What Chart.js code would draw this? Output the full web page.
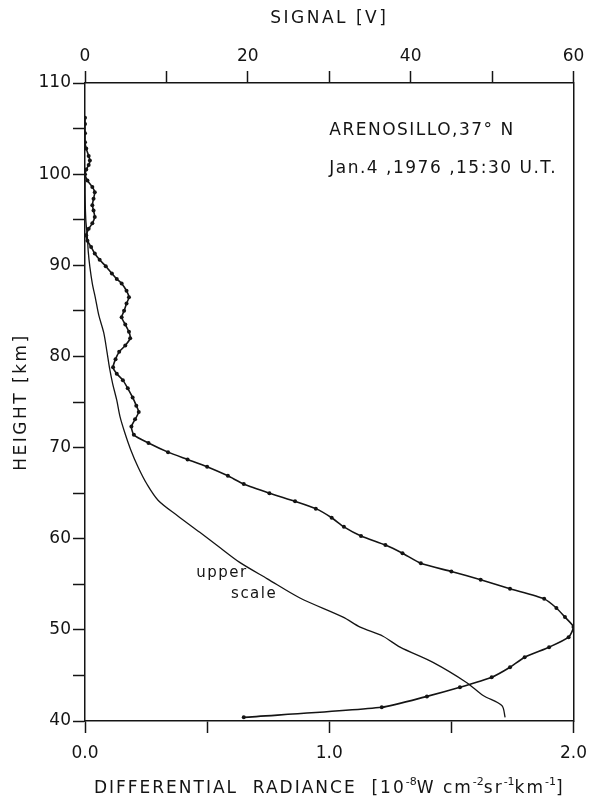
<!DOCTYPE html>
<html>
<head>
<meta charset="utf-8">
<script src="https://cdn.jsdelivr.net/npm/chart.js@4.4.0/dist/chart.umd.min.js"></script>
<style>
  html, body { margin: 0; padding: 0; background: #fff; }
</style>
</head>
<body>
<canvas id="profile" width="599" height="801"></canvas>
<script>
// lower scale: differential radiance [1e-8 W cm-2 sr-1 km-1] against height [km]
var radHeight = [106.2, 105.5, 104.5, 103.5, 102.8, 102.0, 101.5, 101.0, 100.5, 100.0,
  99.3, 98.6, 98.0, 97.3, 96.6, 96.0, 95.3, 94.6, 94.0, 93.3, 92.7, 92.0, 91.3, 90.6,
  89.9, 89.1, 88.5, 88.0, 87.2, 86.5, 85.8, 85.0, 84.3, 83.5, 82.7, 82.0, 81.2, 80.5,
  79.7, 78.8, 78.1, 77.4, 76.5, 75.5, 74.6, 73.9, 73.1, 72.3, 71.4, 70.5, 69.5, 68.7,
  67.9, 66.9, 66.0, 65.0, 64.1, 63.3, 62.3, 61.3, 60.3, 59.3, 58.4, 57.3, 56.4, 55.5,
  54.5, 53.4, 52.4, 51.4, 50.3, 49.2, 48.1, 47.0, 45.9, 44.8, 43.7, 42.7, 41.5, 40.4];
var radiance = [0.0, 0.0, 0.0, 0.0, 0.005, 0.015, 0.02, 0.015, 0.005, 0.0,
  0.01, 0.03, 0.04, 0.035, 0.03, 0.035, 0.04, 0.03, 0.015, 0.005, 0.01, 0.025, 0.04, 0.06,
  0.085, 0.11, 0.13, 0.15, 0.17, 0.18, 0.17, 0.16, 0.15, 0.165, 0.18, 0.185, 0.165, 0.14,
  0.125, 0.115, 0.13, 0.155, 0.175, 0.195, 0.21, 0.22, 0.205, 0.19, 0.2, 0.26, 0.34, 0.42,
  0.50, 0.585, 0.65, 0.755, 0.86, 0.945, 1.01, 1.06, 1.13, 1.23, 1.30, 1.375, 1.50, 1.62,
  1.74, 1.88, 1.93, 1.965, 2.0, 1.98, 1.90, 1.80, 1.74, 1.665, 1.535, 1.40, 1.215, 0.65];

// upper scale: signal [V] against height [km]
var sigHeight = [100.5, 98.0, 95.0, 93.0, 91.5, 89.8, 88.0, 86.3, 84.5, 82.6, 80.5,
  78.8, 77.0, 75.2, 73.4, 71.6, 69.8, 67.9, 66.0, 64.2, 62.5, 60.7, 59.0, 57.4, 55.6,
  53.5, 51.4, 50.3, 49.3, 48.1, 46.4, 44.2, 42.8, 41.7, 40.4];
var signal = [0.0, 0.0, 0.1, 0.3, 0.4, 0.6, 0.9, 1.3, 1.7, 2.3, 2.7,
  3.0, 3.4, 3.9, 4.3, 4.9, 5.6, 6.5, 7.6, 9.0, 11.4, 14.1, 16.6, 19.0, 22.4,
  26.4, 31.7, 33.8, 36.6, 38.7, 42.8, 46.9, 48.9, 51.2, 51.6];

var heightRange = [40, 110];
var radianceRange = [0, 2];
var signalRange = [0, 60];

var ink = '#141414';
var tickFont = { family: 'DejaVu Sans', size: 17 };

function pairs(xs, ys) {
  return xs.map(function (v, i) { return { x: v, y: ys[i] }; });
}

var texts = {
  id: 'texts',
  afterDraw: function (chart) {
    var c = chart.ctx;
    var a = chart.chartArea;
    var sx = chart.scales.x, sy = chart.scales.y;
    c.save();
    c.fillStyle = ink;
    c.textBaseline = 'middle';

    c.font = '17px "DejaVu Sans"';
    c.letterSpacing = '2.5px';
    c.textAlign = 'center';
    c.fillText('SIGNAL [V]', (a.left + a.right) / 2, 19);

    // rotated left title
    c.save();
    c.translate(22, (a.top + a.bottom) / 2);
    c.rotate(-Math.PI / 2);
    c.fillText('HEIGHT [km]', 0, 0);
    c.restore();

    // bottom title with superscripts
    var parts = [['DIFFERENTIAL  RADIANCE  [10', 0], ['-8', 1], ['W cm', 0], ['-2', 1],
      ['sr', 0], ['-1', 1], ['km', 0], ['-1', 1], [']', 0]];
    var big = '17px "DejaVu Sans"', small = '11px "DejaVu Sans"';
    var total = 0;
    parts.forEach(function (p) {
      c.font = p[1] ? small : big;
      c.letterSpacing = p[1] ? '0px' : '2px';
      total += c.measureText(p[0]).width;
    });
    var px = (a.left + a.right) / 2 - total / 2;
    c.textAlign = 'left';
    parts.forEach(function (p) {
      c.font = p[1] ? small : big;
      c.letterSpacing = p[1] ? '0px' : '2px';
      c.fillText(p[0], px, p[1] ? 782 : 789);
      px += c.measureText(p[0]).width;
    });

    // annotations inside the plot
    c.font = '17px "DejaVu Sans"';
    c.letterSpacing = '1.5px';
    c.fillText('ARENOSILLO,37\u00b0 N', sx.getPixelForValue(1.0), sy.getPixelForValue(104.8));
    c.fillText('Jan.4 ,1976 ,15:30 U.T.', sx.getPixelForValue(1.0), sy.getPixelForValue(100.6));

    c.font = '15px "DejaVu Sans"';
    c.letterSpacing = '1.5px';
    c.fillText('upper', sx.getPixelForValue(0.455), sy.getPixelForValue(56.2));
    c.fillText('scale', sx.getPixelForValue(0.598), sy.getPixelForValue(53.9));
    c.restore();
  }
};

var gridOpts = {
  drawOnChartArea: false,
  drawTicks: true,
  tickLength: 12,
  tickWidth: 1.5,
  color: ink
};
var borderOpts = { display: true, color: ink, width: 1.5 };

new Chart(document.getElementById('profile'), {
  type: 'scatter',
  data: {
    datasets: [
      {
        label: 'Differential radiance',
        data: pairs(radiance, radHeight),
        xAxisID: 'x',
        showLine: true,
        borderColor: ink,
        borderWidth: 1.6,
        pointRadius: 2,
        pointBackgroundColor: ink,
        pointBorderWidth: 0,
        tension: 0.2
      },
      {
        label: 'Signal',
        data: pairs(signal, sigHeight),
        xAxisID: 'x2',
        showLine: true,
        borderColor: ink,
        borderWidth: 1.3,
        pointRadius: 0,
        tension: 0.3
      }
    ]
  },
  options: {
    responsive: false,
    animation: false,
    layout: { padding: 0 },
    plugins: {
      legend: { display: false },
      tooltip: { enabled: false }
    },
    scales: {
      x: {
        type: 'linear',
        position: 'bottom',
        min: radianceRange[0],
        max: radianceRange[1],
        grid: gridOpts,
        border: borderOpts,
        ticks: {
          stepSize: 0.5,
          color: ink,
          font: tickFont,
          padding: 10,
          maxRotation: 0,
          callback: function (v) { return v % 1 === 0 ? v.toFixed(1) : ''; }
        },
        afterFit: function (s) { s.height = 80; }
      },
      x2: {
        type: 'linear',
        position: 'top',
        min: signalRange[0],
        max: signalRange[1],
        grid: gridOpts,
        border: borderOpts,
        ticks: {
          stepSize: 10,
          color: ink,
          font: tickFont,
          padding: 4,
          maxRotation: 0,
          callback: function (v) { return v % 20 === 0 ? String(v) : ''; }
        },
        afterFit: function (s) { s.height = 83; }
      },
      y: {
        type: 'linear',
        position: 'left',
        min: heightRange[0],
        max: heightRange[1],
        grid: gridOpts,
        border: borderOpts,
        ticks: {
          stepSize: 5,
          color: ink,
          font: tickFont,
          padding: 2,
          callback: function (v) { return v % 10 === 0 ? String(v) : ''; }
        },
        afterFit: function (s) { s.width = 85; }
      },
      y2: {
        type: 'linear',
        position: 'right',
        min: heightRange[0],
        max: heightRange[1],
        grid: { drawOnChartArea: false, drawTicks: false },
        border: borderOpts,
        ticks: { display: false },
        afterFit: function (s) { s.width = 25.5; }
      }
    }
  },
  plugins: [texts]
});
</script>
</body>
</html>
